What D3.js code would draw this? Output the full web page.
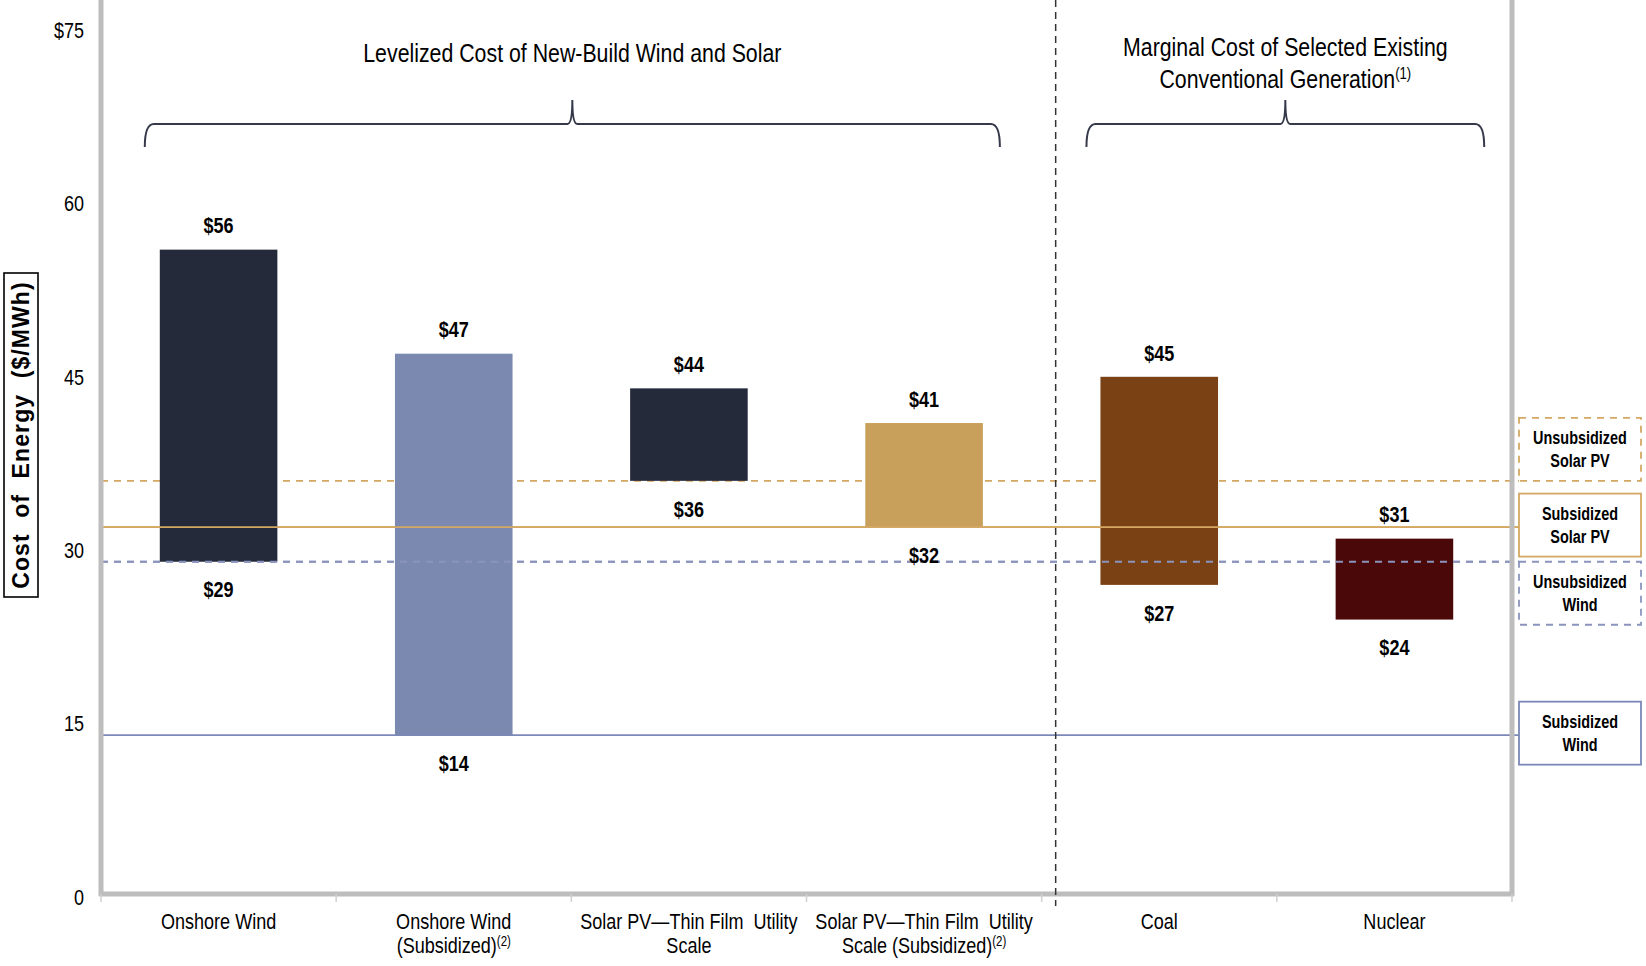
<!DOCTYPE html>
<html>
<head>
<meta charset="utf-8">
<script src="https://cdn.jsdelivr.net/npm/d3@7"></script>
<style>
  html, body { margin: 0; padding: 0; background: #fff; }
  svg { display: block; font-family: "Liberation Sans", Arial, sans-serif; }
</style>
</head>
<body>
<svg id="chart" width="1646" height="966"></svg>
<script>
// Cost ranges ($/MWh) for each technology
const categories = ["Onshore Wind", "Onshore Wind (Subsidized)", "Solar PV—Thin Film Utility Scale",
                    "Solar PV—Thin Film Utility Scale (Subsidized)", "Coal", "Nuclear"];
const lowValues  = [29, 14, 36, 32, 27, 24];
const highValues = [56, 47, 44, 41, 45, 31];
const barColors  = ["#252a3b", "#7b88b0", "#252a3b", "#c9a05b", "#7a4114", "#4b0808"];

// Category label lines and footnote markers
const categoryLines = [["Onshore Wind"], ["Onshore Wind", "(Subsidized)"], ["Solar PV—Thin Film  Utility", "Scale"],
                       ["Solar PV—Thin Film  Utility", "Scale (Subsidized)"], ["Coal"], ["Nuclear"]];
const categoryNotes = ["", "(2)", "", "(2)", "", ""];

// Y axis ticks
const yTickValues = [0, 15, 30, 45, 60, 75];
const yTickLabels = ["0", "15", "30", "45", "60", "$75"];

// Reference levels
const refNames  = ["Unsubsidized Solar PV", "Subsidized Solar PV", "Unsubsidized Wind", "Subsidized Wind"];
const refLines  = [["Unsubsidized", "Solar PV"], ["Subsidized", "Solar PV"], ["Unsubsidized", "Wind"], ["Subsidized", "Wind"]];
const refValues = [36, 32, 29, 14];

// Group headings
const groupTitles = [["Levelized Cost of New-Build Wind and Solar"], ["Marginal Cost of Selected Existing", "Conventional Generation"]];
const groupNotes  = ["", "(1)"];

const svg = d3.select("#chart");
const left = 101, right = 1512, axisY = 894;
const SX = 0.82; // horizontal squeeze giving a condensed face

const y = d3.scaleLinear().domain([0, 75]).range([897, 30]);
const x = d3.scaleBand().domain(categories).range([left, right]).paddingInner(0.5).paddingOuter(0.25);
const step = x.step();
const boundary = i => left + i * step;

// condensed text helper: text placed at (tx, ty) and squeezed horizontally
function narrow(parent, tx, ty, opts = {}) {
  const g = parent.append("g")
    .attr("transform", `translate(${tx},${ty}) scale(${opts.sx || SX},1)`);
  return g.append("text")
    .attr("text-anchor", opts.anchor || "middle")
    .attr("font-size", opts.size || 20)
    .attr("font-weight", opts.weight || "normal")
    .attr("fill", "#000")
    .attr("xml:space", "preserve");
}

// reference line styles
const refStyle = [
  { color: "#d4a862", dash: "7,6", anchor: "above" },
  { color: "#d4a862", dash: null,  anchor: "center" },
  { color: "#8a94bd", dash: "7,6", anchor: "below" },
  { color: "#7b88b8", dash: null,  anchor: "center" }
];
const boxX = 1519, boxW = 122, boxH = 63;

// reference lines across the plot
svg.append("g").selectAll("line").data(refValues).join("line")
  .attr("x1", left).attr("x2", boxX)
  .attr("y1", d => y(d)).attr("y2", d => y(d))
  .attr("stroke", (d, i) => refStyle[i].color)
  .attr("stroke-width", 1.8)
  .attr("stroke-dasharray", (d, i) => refStyle[i].dash);

// bars
svg.append("g").selectAll("rect").data(categories).join("rect")
  .attr("x", d => x(d))
  .attr("width", x.bandwidth())
  .attr("y", (d, i) => y(highValues[i]))
  .attr("height", (d, i) => y(lowValues[i]) - y(highValues[i]))
  .attr("fill", (d, i) => barColors[i]);

// the subsidized solar and unsubsidized wind lines run over the bars
svg.append("g").selectAll("line").data(refValues).join("line")
  .attr("x1", left).attr("x2", boxX)
  .attr("y1", d => y(d)).attr("y2", d => y(d))
  .attr("stroke", (d, i) => refStyle[i].color)
  .attr("stroke-width", 1.8)
  .attr("stroke-opacity", (d, i) => i === 1 || i === 2 ? 1 : 0)
  .attr("stroke-dasharray", (d, i) => refStyle[i].dash);

// value labels
const valG = svg.append("g");
categories.forEach((c, i) => {
  const cx = x(c) + x.bandwidth() / 2;
  narrow(valG, cx, y(highValues[i]) - 24, { size: 22, weight: "bold" })
    .attr("dy", "0.35em").text("$" + highValues[i]);
  narrow(valG, cx, y(lowValues[i]) + 28, { size: 22, weight: "bold" })
    .attr("dy", "0.35em").text("$" + lowValues[i]);
});

// axes frame
const gray = "#bdbdbd";
svg.append("line").attr("x1", left).attr("x2", left).attr("y1", 0).attr("y2", axisY + 2)
  .attr("stroke", gray).attr("stroke-width", 5);
svg.append("line").attr("x1", right).attr("x2", right).attr("y1", 0).attr("y2", axisY + 2)
  .attr("stroke", gray).attr("stroke-width", 5);
svg.append("line").attr("x1", left - 2).attr("x2", right + 2).attr("y1", axisY).attr("y2", axisY)
  .attr("stroke", gray).attr("stroke-width", 5);
svg.append("g").selectAll("line").data(d3.range(categories.length + 1)).join("line")
  .attr("x1", i => boundary(i)).attr("x2", i => boundary(i))
  .attr("y1", axisY).attr("y2", axisY + 8)
  .attr("stroke", "#d0d0d0").attr("stroke-width", 1.5);

// y axis
const TSX = 0.8;
const yAxis = d3.axisLeft(y).tickValues(yTickValues).tickSize(0).tickPadding(17)
  .tickFormat((d, i) => yTickLabels[i]);
const yg = svg.append("g").attr("transform", `translate(${left},0)`).call(yAxis)
  .attr("font-family", "Liberation Sans, Arial, sans-serif").attr("font-size", 22.5);
yg.select(".domain").remove();
yg.selectAll("text")
  .attr("fill", "#000")
  .attr("x", -17 / TSX)
  .attr("transform", `scale(${TSX},1)`);

// y axis title in a box
const titleG = svg.append("g").attr("transform", "translate(21,435) rotate(-90)");
titleG.append("rect").attr("x", -162).attr("y", -17).attr("width", 324).attr("height", 34)
  .attr("fill", "#fff").attr("stroke", "#000").attr("stroke-width", 1.6);
titleG.append("text").attr("text-anchor", "middle").attr("dy", "0.36em")
  .attr("font-weight", "bold")
  .attr("font-size", 23).attr("letter-spacing", 1.1).attr("word-spacing", 8)
  .text("Cost of Energy ($/MWh)");

// category labels
const catG = svg.append("g");
categories.forEach((c, i) => {
  const cx = x(c) + x.bandwidth() / 2;
  categoryLines[i].forEach((line, j) => {
    const t = narrow(catG, cx, 929 + j * 24, { size: 22 });
    t.append("tspan").text(line);
    if (j === categoryLines[i].length - 1 && categoryNotes[i]) {
      t.append("tspan").attr("font-size", 14).attr("dy", -7).text(categoryNotes[i]);
    }
  });
});

// divider between new-build and existing generation
svg.append("line").attr("x1", boundary(4) + 14).attr("x2", boundary(4) + 14)
  .attr("y1", 0).attr("y2", axisY + 12)
  .attr("stroke", "#333").attr("stroke-width", 1.5).attr("stroke-dasharray", "7,5");

// group braces
function bracePath(x0, x1, yb, yTip, yEnd) {
  const m = (x0 + x1) / 2;
  return `M${x0},${yEnd} Q${x0},${yb} ${x0 + 9},${yb} L${m - 5},${yb} Q${m},${yb} ${m},${yTip}` +
         ` Q${m},${yb} ${m + 5},${yb} L${x1 - 9},${yb} Q${x1},${yb} ${x1},${yEnd}`;
}
const braceSpans = [
  [x(categories[0]) - 15, x(categories[3]) + x.bandwidth() + 17],
  [x(categories[4]) - 14, x(categories[5]) + x.bandwidth() + 31]
];
svg.append("g").selectAll("path").data(braceSpans).join("path")
  .attr("d", d => bracePath(d[0], d[1], 124, 100, 147))
  .attr("fill", "none").attr("stroke", "#353a4b").attr("stroke-width", 2);

// group headings
const headG = svg.append("g");
groupTitles.forEach((lines, g) => {
  const cx = (braceSpans[g][0] + braceSpans[g][1]) / 2;
  const y0 = lines.length === 1 ? 62 : 56;
  lines.forEach((line, j) => {
    const t = narrow(headG, cx, y0 + j * 32, { size: 26 });
    t.append("tspan").text(line);
    if (j === lines.length - 1 && groupNotes[g]) {
      t.append("tspan").attr("font-size", 16).attr("dy", -9).text(groupNotes[g]);
    }
  });
});

// reference labels in boxes
const boxG = svg.append("g");
refValues.forEach((v, i) => {
  const s = refStyle[i];
  const top = s.anchor === "above" ? y(v) - boxH : s.anchor === "below" ? y(v) : y(v) - boxH / 2 - 2;
  boxG.append("rect").attr("x", boxX).attr("y", top).attr("width", boxW).attr("height", boxH)
    .attr("fill", "#fff").attr("stroke", s.color).attr("stroke-width", 1.8)
    .attr("stroke-dasharray", s.dash);
  refLines[i].forEach((line, j) => {
    narrow(boxG, boxX + boxW / 2, top + boxH / 2 + (j === 0 ? -11.5 : 11.5), { size: 19, weight: "bold", sx: 0.76 })
      .attr("dy", "0.35em").text(line);
  });
});
</script>
</body>
</html>
